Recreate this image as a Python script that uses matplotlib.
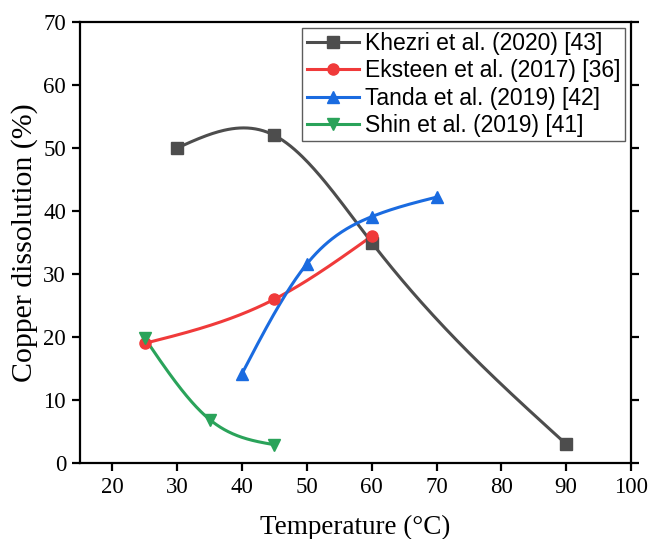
import numpy as np
import matplotlib
matplotlib.use("Agg")
import matplotlib.pyplot as plt

# Data
khezri_x = [30, 45, 60, 90]
khezri_y = [50, 52, 35, 3]
eksteen_x = [25, 45, 60]
eksteen_y = [19, 26, 36]
tanda_x = [40, 50, 60, 70]
tanda_y = [14.2, 31.6, 39.1, 42.2]
shin_x = [25, 35, 45]
shin_y = [19.8, 6.9, 2.9]

labels = ["Khezri et al. (2020) [43]", "Eksteen et al. (2017) [36]",
          "Tanda et al. (2019) [42]", "Shin et al. (2019) [41]"]
colors = ["#4d4d4d", "#f03a3a", "#1a6be0", "#2aa35a"]
markers = ["s", "o", "^", "v"]
xticks = [20, 30, 40, 50, 60, 70, 80, 90, 100]
yticks = [0, 10, 20, 30, 40, 50, 60, 70]


def natural_spline(x, y, n=200):
    x = np.asarray(x, float); y = np.asarray(y, float)
    m = len(x)
    h = np.diff(x)
    A = np.zeros((m, m)); b = np.zeros(m)
    A[0, 0] = 1; A[-1, -1] = 1
    for i in range(1, m - 1):
        A[i, i - 1] = h[i - 1]
        A[i, i] = 2 * (h[i - 1] + h[i])
        A[i, i + 1] = h[i]
        b[i] = 3 * ((y[i + 1] - y[i]) / h[i] - (y[i] - y[i - 1]) / h[i - 1])
    c = np.linalg.solve(A, b)
    xs = np.linspace(x[0], x[-1], n)
    ys = np.empty_like(xs)
    for k, xv in enumerate(xs):
        i = min(np.searchsorted(x, xv, side="right") - 1, m - 2)
        bi = (y[i + 1] - y[i]) / h[i] - h[i] * (c[i + 1] + 2 * c[i]) / 3
        di = (c[i + 1] - c[i]) / (3 * h[i])
        dx = xv - x[i]
        ys[k] = y[i] + bi * dx + c[i] * dx ** 2 + di * dx ** 3
    return xs, ys


fig = plt.figure(figsize=(6.51, 5.39), dpi=100)
ax = fig.add_axes([80 / 651, 76 / 539, 551 / 651, 441 / 539])

series = [(khezri_x, khezri_y), (eksteen_x, eksteen_y), (tanda_x, tanda_y), (shin_x, shin_y)]
for (x, y), lab, c, mk in zip(series, labels, colors, markers):
    xs, ys = natural_spline(x, y)
    ax.plot(xs, ys, color=c, lw=2.2, zorder=2)
    ax.plot(x, y, ls="none", marker=mk, color=c, ms=8, zorder=3)
    ax.plot([], [], color=c, lw=2.2, marker=mk, ms=8, label=lab)

ax.set_xlim(15, 100)
ax.set_ylim(0, 70)
ax.set_xticks(xticks)
ax.set_yticks(yticks)

for s in ax.spines.values():
    s.set_linewidth(1.6)
ax.tick_params(axis="both", direction="out", length=6, width=1.6,
               labelsize=16.5, pad=4)
ax.tick_params(axis="y", right=True)
for t in ax.get_xticklabels() + ax.get_yticklabels():
    t.set_fontfamily("Liberation Serif")

ax.set_xlabel("Temperature (°C)", fontsize=19.5, family="Liberation Serif", labelpad=12)
ax.set_ylabel("Copper dissolution (%)", fontsize=21.5, family="Liberation Serif", labelpad=4)

leg = ax.legend(loc="upper right", prop={"family": "Liberation Sans", "size": 16.5},
                frameon=True, fancybox=False, edgecolor="#333333",
                handlelength=2.3, handletextpad=0.25, labelspacing=0.18,
                borderpad=0.2, borderaxespad=0.25)
leg.get_frame().set_linewidth(1.0)

fig.savefig("out.png", dpi=100)
